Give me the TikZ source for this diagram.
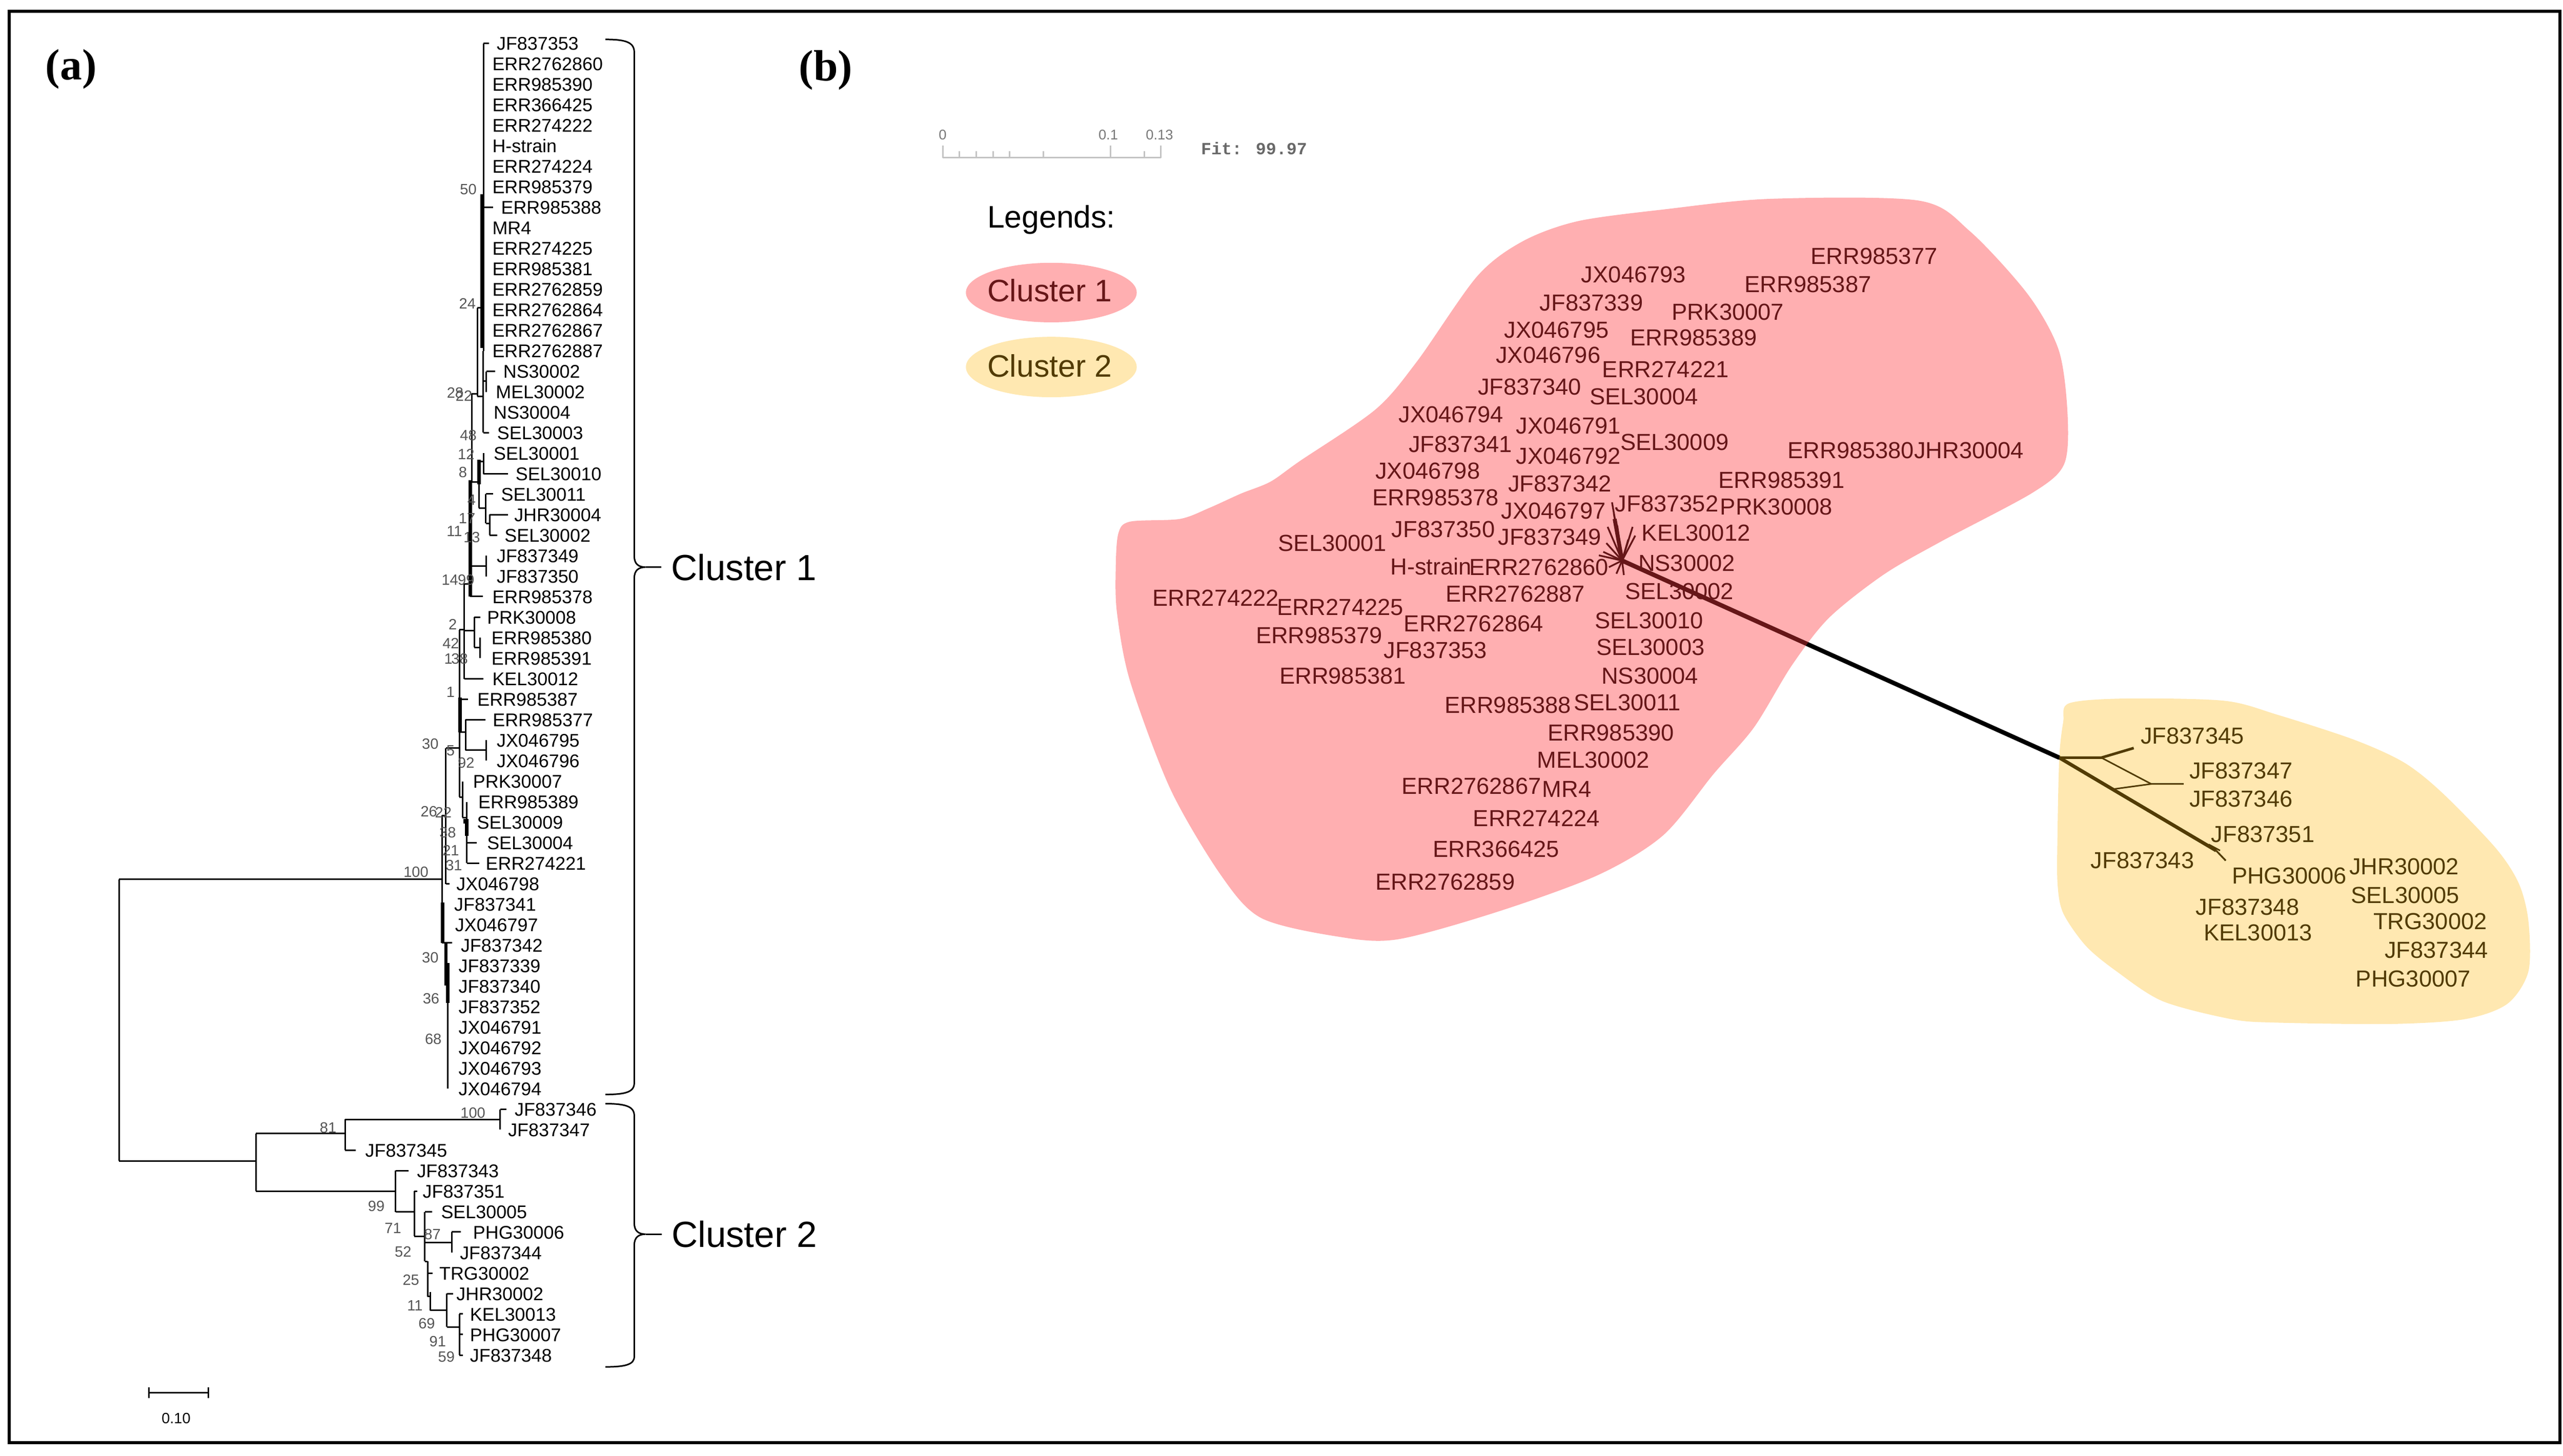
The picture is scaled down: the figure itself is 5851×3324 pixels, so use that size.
\documentclass[tikz,border=0pt]{standalone}
\usepackage{fontspec}
\setmainfont{Liberation Sans}
\newfontfamily\serifbold{Liberation Serif}
\newfontfamily\monofam{Liberation Mono}
\definecolor{pinkbase}{RGB}{255,55,60}
\definecolor{yelbase}{RGB}{255,186,14}
\definecolor{bootgray}{RGB}{85,85,85}
\definecolor{scalegray}{RGB}{195,195,195}
\definecolor{ticklabel}{RGB}{120,120,120}
\definecolor{fitgray}{RGB}{105,105,105}
\tikzset{
  leaf/.style={font=\fontsize{4.2}{5}\selectfont, anchor=base west, inner sep=0pt, yshift=-1.5pt},
  boot/.style={font=\fontsize{3.4}{4}\selectfont, anchor=base east, inner sep=0pt, yshift=-1.22pt, text=bootgray},
  lab/.style={font=\fontsize{5.3}{6}\selectfont, anchor=base west, inner sep=0pt, yshift=-1.9pt},
  clab/.style={font=\fontsize{8.3}{9}\selectfont, anchor=base west, inner sep=0pt, yshift=-2.97pt},
  legtext/.style={font=\fontsize{7.1}{8}\selectfont, anchor=base west, inner sep=0pt},
  panel/.style={font=\serifbold\bfseries\fontsize{10}{11}\selectfont, anchor=base west, inner sep=0pt},
  br/.style={line width=0.35pt},
  thk/.style={line width=0.8pt},
  spoke/.style={line width=0.4pt},
  pinkover/.style={fill=pinkbase, fill opacity=0.4},
  yelover/.style={fill=yelbase, fill opacity=0.32},
}
\begin{document}
\begin{tikzpicture}[x=0.1pt,y=-0.1pt]
\useasboundingbox (0,0) rectangle (5851,3324);
\fill[white] (0,0) rectangle (5851,3324);
\draw[line width=0.7pt] (21,26) rectangle (5844,3294);

% ---------------- panel labels
\node[panel] (pa) at (102,182) {(a)};
\node[panel] (pb) at (1822,184) {(b)};

% ---------------- tree leaves (panel a)
\foreach \i/\x/\nm in {1/1132/JF837353, 2/1122/ERR2762860, 3/1122/ERR985390, 4/1122/ERR366425,
  5/1122/ERR274222, 6/1122/H-strain, 7/1122/ERR274224, 8/1122/ERR985379, 9/1142/ERR985388,
  10/1122/MR4, 11/1122/ERR274225, 12/1122/ERR985381, 13/1122/ERR2762859, 14/1122/ERR2762864,
  15/1122/ERR2762867, 16/1122/ERR2762887, 17/1147/NS30002, 18/1130/MEL30002, 19/1125/NS30004,
  20/1133/SEL30003, 21/1125/SEL30001, 22/1175/SEL30010, 23/1142/SEL30011, 24/1172/JHR30004,
  25/1150/SEL30002, 26/1132/JF837349, 27/1132/JF837350, 28/1122/ERR985378, 29/1110/PRK30008,
  30/1120/ERR985380, 31/1120/ERR985391, 32/1122/KEL30012, 33/1088/ERR985387, 34/1123/ERR985377,
  35/1132/JX046795, 36/1132/JX046796, 37/1078/PRK30007, 38/1090/ERR985389, 39/1087/SEL30009,
  40/1110/SEL30004, 41/1107/ERR274221, 42/1040/JX046798, 43/1035/JF837341, 44/1037/JX046797,
  45/1050/JF837342, 46/1045/JF837339, 47/1045/JF837340, 48/1045/JF837352, 49/1045/JX046791,
  50/1045/JX046792, 51/1045/JX046793, 52/1045/JX046794, 53/1173/JF837346, 54/1158/JF837347,
  55/832/JF837345, 56/950/JF837343, 57/963/JF837351, 58/1005/SEL30005, 59/1078/PHG30006,
  60/1048/JF837344, 61/1001/TRG30002, 62/1040/JHR30002, 63/1071/KEL30013, 64/1071/PHG30007,
  65/1071/JF837348}
  \node[leaf] (t\i) at (\x,{99+46.8*(\i-1)}) {\nm};

% ---------------- tree branches, cluster 1
\draw[br]
 (1104,99)--(1104,801) (1104,99)--(1116,99) (1104,473)--(1126,473)
 (1090,703)--(1104,703) (1090,703)--(1090,905) (1077,899)--(1090,899)
 (1103,801)--(1103,988) (1090,905)--(1103,905) (1103,870)--(1110,870)
 (1110,848)--(1110,895) (1110,848)--(1130,848) (1103,988)--(1116,988)
 (1077,899)--(1077,1100) (1077,1100)--(1093,1100)
 (1093,1054)--(1093,1160) (1093,1054)--(1104,1054) (1104,1035)--(1104,1082) (1104,1082)--(1160,1082)
 (1093,1160)--(1109,1160) (1109,1128)--(1109,1195) (1109,1128)--(1126,1128)
 (1109,1195)--(1118,1195) (1118,1175)--(1118,1222) (1118,1175)--(1160,1175) (1118,1222)--(1135,1222)
 (1073,1100)--(1073,1362) (1073,1292)--(1110,1292) (1110,1269)--(1110,1316) (1073,1362)--(1102,1362)
 (1060,1333)--(1073,1333) (1060,1333)--(1060,1550) (1060,1440)--(1083,1440)
 (1083,1409)--(1083,1478) (1083,1409)--(1096,1409) (1083,1478)--(1096,1478) (1096,1456)--(1096,1503)
 (1060,1550)--(1104,1550)
 (1049,1438)--(1060,1438) (1049,1438)--(1049,1820) (1049,1597)--(1068,1597)
 (1049,1672)--(1063,1672) (1063,1643)--(1063,1713) (1063,1643)--(1108,1643)
 (1063,1713)--(1110,1713) (1110,1690)--(1110,1737)
 (1018,1708)--(1049,1708) (1018,1708)--(1018,2018) (1018,2018)--(1026,2018)
 (1049,1820)--(1056,1820) (1056,1784)--(1056,1867) (1056,1867)--(1065,1867)
 (1065,1831)--(1065,1908) (1066,1900)--(1066,1971) (1066,1924)--(1088,1924) (1066,1971)--(1094,1971)
 (1009,1862)--(1018,1862) (1009,1862)--(1009,2153) (1009,2153)--(1032,2153)
 (1017,2153)--(1017,2250) (1022,2199)--(1022,2486);
\draw[thk] (1101,443)--(1101,795) (1074,1096)--(1074,1362) (1094,1050)--(1094,1106)
 (1050,1593)--(1050,1672) (1065,1870)--(1065,1908) (1010,2061)--(1010,2153)
 (1018,2153)--(1018,2250) (1022,2199)--(1022,2290) (1062,1870)--(1062,1880);

% ---------------- tree branches, root and cluster 2
\draw[br]
 (272,2008)--(272,2651) (272,2008)--(1009,2008) (272,2651)--(584,2651)
 (584,2588)--(584,2720) (584,2588)--(788,2588)
 (788,2556)--(788,2626) (788,2556)--(1142,2556)
 (1142,2533)--(1142,2579) (1142,2533)--(1156,2533) (788,2626)--(812,2626)
 (584,2720)--(903,2720) (903,2673)--(903,2767) (903,2673)--(933,2673)
 (903,2767)--(946,2767) (946,2720)--(946,2823) (946,2720)--(953,2720)
 (946,2823)--(970,2823) (970,2767)--(970,2880) (970,2767)--(987,2767)
 (970,2837)--(1031,2837) (1031,2813)--(1031,2860) (1031,2813)--(1052,2813)
 (970,2880)--(976,2880) (976,2880)--(976,2960) (976,2907)--(988,2907)
 (976,2960)--(982,2960) (982,2950)--(982,2992) (982,2992)--(1020,2992)
 (1020,2954)--(1020,3030) (1020,2954)--(1034,2954)
 (1020,3030)--(1049,3030) (1049,3000)--(1049,3094)
 (1049,3000)--(1057,3000) (1049,3047)--(1057,3047) (1049,3094)--(1057,3094);

% ---------------- bootstrap values
\foreach \v/\x/\y in {50/1090/432, 24/1088/693, 28/1060/897, 22/1080/904, 48/1090/994,
  12/1085/1037, 8/1068/1078, 4/1088/1141, 17/1087/1183, 11/1057/1212, 13/1098/1226,
  14/1048/1324, 99/1085/1324, 2/1045/1425, 42/1050/1469, 1/1035/1504, 38/1070/1504,
  1/1040/1580, 30/1003/1698, 5/1040/1713, 92/1085/1741, 26/1000/1852, 22/1033/1855,
  38/1043/1900, 21/1050/1941, 31/1057/1975, 100/980/1991, 30/1003/2186, 36/1005/2280,
  68/1010/2372, 81/770/2574, 100/1110/2541, 99/880/2754, 71/918/2804, 87/1008/2818,
  52/941/2858, 25/959/2922, 11/967/2981, 69/995/3021, 91/1020/3063, 59/1040/3098}
  \node[boot] at (\x,\y) {\v};

% ---------------- cluster braces (panel a)
\draw[br] (1382,90) .. controls (1430,90) and (1448,97) .. (1448,120) -- (1448,1270)
  .. controls (1448,1288) and (1458,1295) .. (1474,1295)
  .. controls (1458,1295) and (1448,1302) .. (1448,1320) -- (1448,2472)
  .. controls (1448,2493) and (1430,2499) .. (1382,2499);
\draw[br] (1382,2520) .. controls (1430,2520) and (1448,2527) .. (1448,2548) -- (1448,2793)
  .. controls (1448,2811) and (1458,2818) .. (1474,2818)
  .. controls (1458,2818) and (1448,2825) .. (1448,2843) -- (1448,3097)
  .. controls (1448,3115) and (1430,3121) .. (1382,3121);
\node[clab] (c1) at (1530,1295) {Cluster 1};
\node[clab] (c2) at (1531,2818) {Cluster 2};
\coordinate (c1tip) at (1474,1295);
\coordinate (c2tip) at (1474,2818);
\draw[br] (c1tip) -- ([xshift=-2pt]c1tip -| c1.west);
\draw[br] (c2tip) -- ([xshift=-2pt]c2tip -| c2.west);

% ---------------- scale bar (panel a)
\draw[br] (340,3180)--(476,3180) (340,3168)--(340,3192) (476,3168)--(476,3192);
\node[font=\fontsize{3.4}{4}\selectfont, inner sep=0pt] (sbl) at (402,3239) {0.10};

% ---------------- panel b: scale and fit
\draw[line width=0.4pt, scalegray] (2152,360)--(2650,360);
\foreach \k in {1,2,3,4,6} \draw[line width=0.35pt, scalegray] ({2152+38.3*\k},345)--({2152+38.3*\k},360);
\draw[line width=0.35pt, scalegray] (2152,332)--(2152,360) (2535,332)--(2535,360) (2650,332)--(2650,360) (2612,345)--(2612,360);
\node[font=\fontsize{3.2}{4}\selectfont, text=ticklabel, inner sep=0pt] (s0) at (2152,308) {0};
\node[font=\fontsize{3.2}{4}\selectfont, text=ticklabel, inner sep=0pt] (s1) at (2530,308) {0.1};
\node[font=\fontsize{3.2}{4}\selectfont, text=ticklabel, inner sep=0pt] (s2) at (2647,308) {0.13};
\node[font=\monofam\bfseries\fontsize{3.9}{4.5}\selectfont, text=fitgray, anchor=west, inner sep=0pt] (fit) at (2740,339) {Fit: 99.97};

% ---------------- legend
\node[legtext] (leg) at (2252,520) {Legends:};
\node[legtext] (lg1) at (2252,689) {Cluster 1};
\node[legtext] (lg2) at (2252,861) {Cluster 2};

% ---------------- panel b: network branches
\coordinate (hub1) at (3703,1280);
\coordinate (hub2) at (4701,1730);
\coordinate (hub3) at (4797,1730);
\coordinate (hub4) at (4911,1790);
\coordinate (end2) at (5059,1942);
\foreach \px/\py in {3680/1147, 3727/1203, 3733/1223, 3670/1203, 3667/1240, 3660/1260,
  3673/1295, 3707/1313, 3692/1200, 3717/1232, 3684/1172, 3650/1268, 3690/1310}
  \draw[spoke] (hub1) -- (\px,\py);
\draw[line width=0.9pt] (3686,1185) -- (hub1);
\draw[line width=1.0pt] (hub1) -- (hub2);
\draw[line width=0.8pt] (hub2) -- (end2);
\draw[line width=0.4pt] (end2) -- (5081,1965);
\draw[line width=0.6pt] (hub2) -- (hub3) -- (4871,1708);
\draw[line width=0.35pt] (hub3) -- (hub4) -- (4985,1790);
\draw[line width=0.35pt] (4823,1802) -- (hub4);
\draw[line width=0.35pt] (5042,1928) -- (5068,1942);

% ---------------- panel b: cluster 1 labels
\foreach \n/\x/\y/\t in {p1/4132/584/ERR985377, p2/3981/649/ERR985387, p3/3608/626/JX046793,
  p4/3513/691/JF837339, p5/3814/712/PRK30007, p6/3432/753/JX046795, p7/3720/770/ERR985389,
  p8/3413/810/JX046796, p9/3656/843/ERR274221, p10/3372/883/JF837340, p11/3627/905/SEL30004,
  p12/3191/946/JX046794, p13/3459/972/JX046791, p14/3214/1014/JF837341, p15/3697/1009/SEL30009,
  p16/3459/1040/JX046792, p17/4079/1028/ERR985380JHR30004, p18/3138/1075/JX046798,
  p19/3441/1104/JF837342, p20/3921/1096/ERR985391, p21/3131/1135/ERR985378,
  p22/3425/1166/JX046797, p23/3685/1149/JF837352, p24/3925/1156/PRK30008,
  p25/2916/1240/SEL30001, p26/3175/1208/JF837350, p27/3418/1226/JF837349,
  p28/3746/1216/KEL30012, p29/3172/1293/H-strain, p30/3352/1294/ERR2762860,
  p31/3738/1285/NS30002, p32/2629/1365/ERR274222, p33/2913/1386/ERR274225,
  p34/3298/1355/ERR2762887, p35/3708/1350/SEL30002, p36/2865/1450/ERR985379,
  p37/3203/1423/ERR2762864, p38/3639/1416/SEL30010, p39/3157/1484/JF837353,
  p40/3642/1477/SEL30003, p41/2919/1543/ERR985381, p42/3654/1543/NS30004,
  p43/3296/1609/ERR985388, p44/3591/1604/SEL30011, p45/3531/1672/ERR985390,
  p46/3507/1735/MEL30002, p47/3198/1794/ERR2762867, p48/3519/1801/MR4,
  p49/3361/1868/ERR274224, p50/3269/1938/ERR366425, p51/3138/2013/ERR2762859}
  \node[lab] (\n) at (\x,\y) {\t};

% ---------------- panel b: cluster 2 labels
\foreach \n/\x/\y/\t in {q1/4885/1679/JF837345, q2/4996/1759/JF837347, q3/4996/1823/JF837346,
  q4/5046/1904/JF837351, q5/4771/1964/JF837343, q6/5093/1999/PHG30006, q7/5361/1978/JHR30002,
  q8/5365/2044/SEL30005, q9/5011/2070/JF837348, q10/5416/2103/TRG30002, q11/5029/2129/KEL30013,
  q12/5442/2169/JF837344, q13/5376/2234/PHG30007}
  \node[lab] (\n) at (\x,\y) {\t};

% ---------------- coloured cluster regions (translucent overlays)
\fill[pinkover] plot[smooth cycle, tension=0.5] coordinates {
 (2553,1218) (2580,1191) (2693,1185) (2760,1160) (2833,1127) (2900,1100) (2967,1053)
 (3140,935) (3235,825) (3372,631)
 (3476,551) (3602,505) (3800,478) (4041,454) (4380,458) (4497,528) (4630,673)
 (4700,800) (4720,947) (4712,1060) (4640,1125) (4430,1237) (4300,1312) (4175,1411)
 (4090,1520) (4004,1661) (3912,1767) (3797,1907) (3648,1998) (3418,2082) (3189,2145)
 (3051,2138) (2879,2096) (2787,1998) (2672,1802) (2580,1556) (2550,1400) (2547,1300)};
\fill[yelover] plot[smooth cycle, tension=0.5] coordinates {
 (4723,1606) (4850,1595) (5077,1600) (5199,1632) (5374,1689) (5488,1741) (5575,1810)
 (5697,1936) (5750,2017) (5772,2103) (5772,2218) (5724,2292) (5627,2327) (5461,2338)
 (5199,2335) (5094,2327) (4937,2286) (4832,2218) (4762,2160) (4710,2085) (4697,2017)
 (4697,1902) (4701,1730) (4710,1649)};
\fill[pinkover] (2400,668) ellipse (195 and 68);
\fill[yelover] (2400,838) ellipse (195 and 69);
\end{tikzpicture}
\end{document}
